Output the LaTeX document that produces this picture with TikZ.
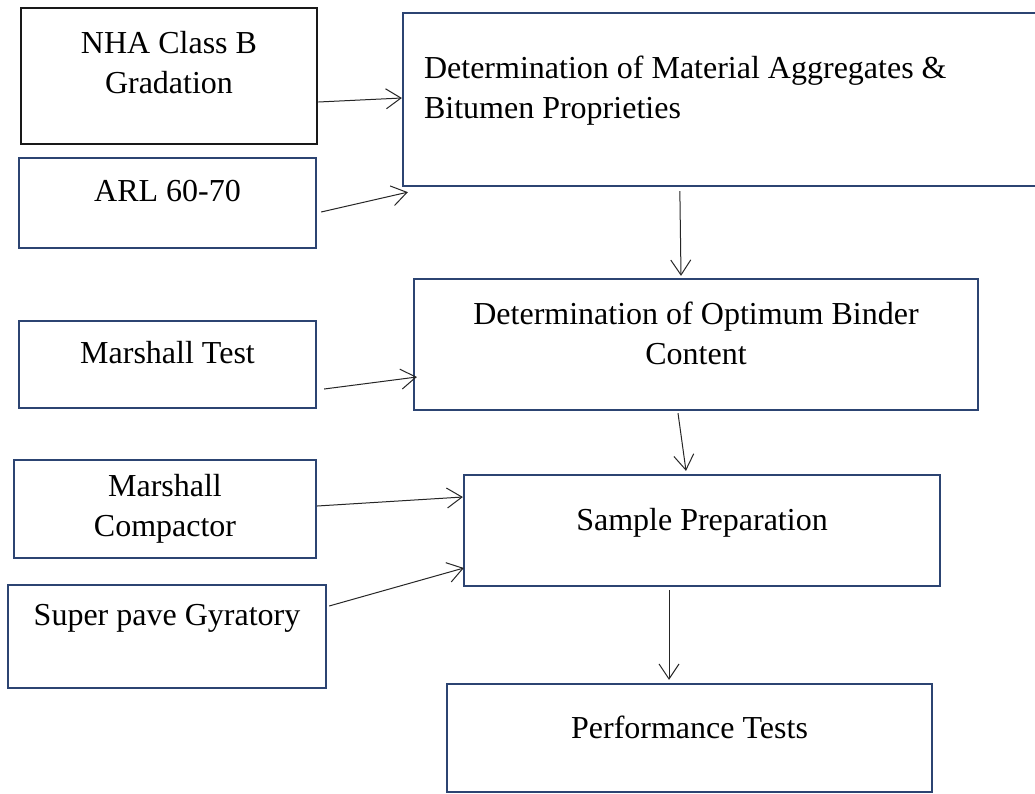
\documentclass[tikz,border=0pt]{standalone}
\usepackage{fontspec}
\setmainfont{Liberation Serif}
\usetikzlibrary{positioning}
\usetikzlibrary{calc}
\usetikzlibrary{arrows.meta}

\definecolor{boxblue}{RGB}{44,68,114}

\tikzset{
    stage/.style={draw=boxblue, line width=2.3pt, inner sep=0},
    lbl/.style={inner sep=0, anchor=base, align=center,
        font=\fontsize{32}{40}\selectfont},
    flow/.style={line width=1pt, black!85,
        -{Straight Barb[length=15pt, width=20pt]}}
}

\begin{document}
\begin{tikzpicture}[x=1pt, y=-1pt]
    \clip (0,0) rectangle (1035,793);
    \fill[white] (0,0) rectangle (1035,793);

% boxes
\node[stage, draw=black!90, line width=2.8pt, minimum width=296pt, minimum height=136pt]
    (nha) at (169,76) {};
\node[stage, minimum width=297pt, minimum height=90pt] (arl) at (167.5,203) {};
\node[stage, minimum width=662pt, minimum height=173pt] (detmat) at (734,99.5) {};
\node[stage, minimum width=297pt, minimum height=87pt] (mtest) at (167.5,364.5) {};
\node[stage, minimum width=564pt, minimum height=131pt] (detopt) at (696,344.5) {};
\node[stage, minimum width=302pt, minimum height=98pt] (mcomp) at (165,509) {};
\node[stage, minimum width=476pt, minimum height=111pt] (sprep) at (702,530.5) {};
\node[stage, minimum width=318pt, minimum height=103pt] (spave) at (167,636.5) {};
\node[stage, minimum width=485pt, minimum height=108pt] (perf) at (689.5,738) {};

% texts (base = last line)
\node[lbl] (nha-txt) at ($(nha.north)+(0,87)$) {NHA Class B\\Gradation};
\node[lbl] (arl-txt) at ($(arl.north)+(0,45)$) {ARL 60-70};
\node[lbl, anchor=base west, align=left] (detmat-txt) at ($(detmat.north west)+(22,107)$)
    {Determination of Material Aggregates \&\\Bitumen Proprieties};
\node[lbl] (mtest-txt) at ($(mtest.north)+(0,44)$) {Marshall Test};
\node[lbl] (detopt-txt) at ($(detopt.north)+(0,87)$) {Determination of Optimum Binder\\Content};
\node[lbl] (mcomp-txt) at ($(mcomp.north)+(0,78)$) {Marshall\\Compactor};
\node[lbl] (sprep-txt) at ($(sprep.north)+(0,57)$) {Sample Preparation};
\node[lbl] (spave-txt) at ($(spave.north)+(0,42)$) {Super pave Gyratory};
\node[lbl] (perf-txt) at ($(perf.north)+(0,56)$) {Performance Tests};

% arrows
\draw[flow] ($(nha.east)+(0,26)$) -- ($(detmat.west)+(0,-1.5)$);
\draw[flow] ($(arl.east)+(4,9)$) -- ($(detmat.south west)+(6,5)$);
\draw[flow] ($(detmat.south west)+(278,4)$) -- ($(detopt.north)+(-15,-2)$);
\draw[flow] ($(mtest.east)+(7,24.5)$) -- ($(detopt.west)+(4,32.5)$);
\draw[flow] ($(detopt.south)+(-18,2)$) -- ($(sprep.north)+(-16,-3)$);
\draw[flow] ($(mcomp.east)+(0,-3)$) -- ($(sprep.west)+(0,-33.5)$);
\draw[flow] ($(spave.east)+(2,-30.5)$) -- ($(sprep.west)+(1,37.5)$);
\draw[flow] ($(sprep.south)+(-33,3)$) -- ($(perf.north)+(-20.5,-3)$);
\end{tikzpicture}
\end{document}
